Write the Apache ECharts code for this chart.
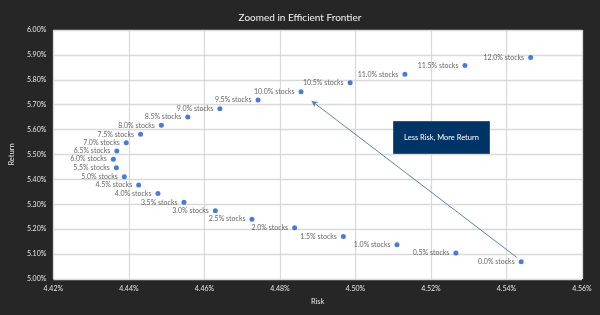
<!DOCTYPE html>
<html>
<head>
<meta charset="utf-8">
<script src="https://cdn.jsdelivr.net/npm/echarts@6/dist/echarts.min.js"></script>
<style>
  html, body { margin: 0; padding: 0; background: #262626; }
  #main { width: 600px; height: 315px; }
</style>
</head>
<body>
<div id="main"></div>
<script>
// portfolio names, risk (%) and return (%)
const names = ['0.0% stocks', '0.5% stocks', '1.0% stocks', '1.5% stocks', '2.0% stocks',
  '2.5% stocks', '3.0% stocks', '3.5% stocks', '4.0% stocks', '4.5% stocks', '5.0% stocks',
  '5.5% stocks', '6.0% stocks', '6.5% stocks', '7.0% stocks', '7.5% stocks', '8.0% stocks',
  '8.5% stocks', '9.0% stocks', '9.5% stocks', '10.0% stocks', '10.5% stocks', '11.0% stocks',
  '11.5% stocks', '12.0% stocks'];
const risk = [4.5439, 4.5266, 4.5110, 4.4968, 4.4839, 4.4726, 4.4629, 4.4546, 4.4477, 4.4426,
  4.4388, 4.4367, 4.4359, 4.4368, 4.4393, 4.4431, 4.4486, 4.4556, 4.4641, 4.4742, 4.4856,
  4.4986, 4.5131, 4.5290, 4.5464];
const ret = [5.069, 5.104, 5.138, 5.171, 5.206, 5.240, 5.274, 5.308, 5.343, 5.378, 5.411,
  5.447, 5.481, 5.514, 5.547, 5.581, 5.617, 5.651, 5.684, 5.719, 5.752, 5.788, 5.822,
  5.857, 5.890];
// arrow annotation: from [risk, return] to [risk, return]
const arrowFrom = [4.5427, 5.087];
const arrowTo = [4.4884, 5.715];
const noteText = 'Less Risk, More Return';

const chart = echarts.init(document.getElementById('main'));
const points = risk.map((r, i) => ({ name: names[i], value: [r, ret[i]] }));

const option = {
  backgroundColor: '#262626',
  textStyle: { fontFamily: 'Lato' },
  title: {
    text: 'Zoomed in Efficient Frontier',
    left: 'center',
    top: 8,
    textStyle: { color: '#f2f2f2', fontSize: 10, fontWeight: 'normal', fontFamily: 'Lato' },
  },
  grid: { left: 47, right: 18, top: 30, bottom: 36, show: true, backgroundColor: '#fff', borderWidth: 0 },
  xAxis: {
    type: 'value',
    min: 4.42, max: 4.56, interval: 0.02,
    name: 'Risk', nameLocation: 'middle', nameGap: 19,
    nameTextStyle: { color: '#e6e6e6', fontSize: 7.5 },
    axisLine: { show: false },
    axisTick: { show: false },
    axisLabel: { color: '#e6e6e6', fontSize: 7, margin: 6, formatter: v => v.toFixed(2) + '%' },
    splitLine: { lineStyle: { color: '#d9d9d9', width: 1.3 } },
  },
  yAxis: {
    type: 'value',
    min: 5.0, max: 6.0, interval: 0.1,
    name: 'Return', nameLocation: 'middle', nameGap: 30, nameRotate: 90,
    nameTextStyle: { color: '#e6e6e6', fontSize: 7.5 },
    axisLine: { show: false },
    axisTick: { show: false },
    axisLabel: { color: '#e6e6e6', fontSize: 7, margin: 7, formatter: v => v.toFixed(2) + '%' },
    splitLine: { lineStyle: { color: '#d9d9d9', width: 1.3 } },
  },
  series: [{
    type: 'scatter',
    data: points,
    symbolSize: 5,
    itemStyle: { color: '#1f5bc6' },
    label: {
      show: true,
      position: 'left',
      distance: 4,
      formatter: p => p.name,
      color: '#404040',
      fontSize: 7,
    },
    markLine: {
      silent: true,
      symbol: ['none', 'arrow'],
      symbolSize: [5, 6],
      label: { show: false },
      lineStyle: { color: '#5b84ad', width: 1, type: 'solid' },
      data: [[{ coord: arrowFrom }, { coord: arrowTo }]],
    },
  }],
  graphic: [{
    type: 'group',
    left: 393,
    top: 121,
    z: 100,
    children: [{
      type: 'rect',
      z: 100,
      shape: { x: 0, y: 0, width: 96, height: 32 },
      style: { fill: '#003366', stroke: '#2f528f', lineWidth: 1 },
    }, {
      type: 'text',
      z: 101,
      x: 48, y: 16,
      style: {
        text: noteText, fill: '#fff', fontSize: 7.5, fontFamily: 'Lato',
        align: 'center', verticalAlign: 'middle',
      },
    }],
  }],
};
chart.setOption(option);
</script>
</body>
</html>
